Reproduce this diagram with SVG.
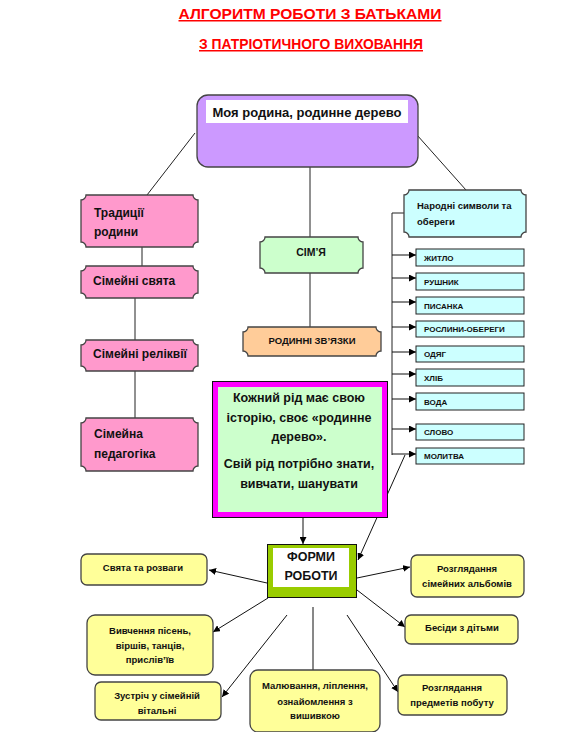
<svg xmlns="http://www.w3.org/2000/svg" width="570" height="732" viewBox="0 0 570 732">
<defs>
<marker id="arr" viewBox="0 0 10 10" refX="10" refY="5" markerWidth="7" markerHeight="7" markerUnits="userSpaceOnUse" orient="auto">
<path d="M0,0 L10,5 L0,10 Z" fill="#000"/>
</marker>
<style>
text{font-family:"Liberation Sans",Arial,sans-serif;font-weight:bold;fill:#111}
.title{fill:#ff0000;font-size:15px;text-decoration:underline}
.pink{fill:#ff99cc;stroke:#444;stroke-width:1.3}
.cyan{fill:#ccffff;stroke:#444;stroke-width:1.3}
.sq{fill:#ccffff;stroke:#222;stroke-width:1}
.yel{fill:#ffff99;stroke:#444;stroke-width:1.3}
.ln{stroke:#222;stroke-width:1;fill:none}
.ar{stroke:#111;stroke-width:1;fill:none;marker-end:url(#arr)}
.pt{font-size:12px}
.st{font-size:8px}
.yt{font-size:9.5px;text-anchor:middle}
</style>
</defs>
<rect width="570" height="732" fill="#fff"/>
<text class="title" x="310" y="19" text-anchor="middle" textLength="263" lengthAdjust="spacingAndGlyphs">АЛГОРИТМ РОБОТИ З БАТЬКАМИ</text>
<text class="title" x="311" y="49" text-anchor="middle" font-size="14" textLength="224" lengthAdjust="spacingAndGlyphs">З ПАТРІОТИЧНОГО ВИХОВАННЯ</text>

<g id="connectors">
<line class="ln" x1="195" y1="133" x2="147" y2="195"/>
<line class="ln" x1="417" y1="135" x2="466" y2="190"/>
<line class="ln" x1="310" y1="167" x2="310" y2="237"/>
<line class="ln" x1="310" y1="273" x2="310" y2="327"/>
<line class="ln" x1="142" y1="238" x2="142" y2="266" stroke="#444"/>
<line class="ln" x1="135" y1="298" x2="135" y2="340" stroke="#444"/>
<line class="ln" x1="135" y1="371" x2="135" y2="418" stroke="#444"/>
<polyline class="ln" points="404,213 392,213 392,455" stroke="#555"/>
<line class="ar" x1="392" y1="255" x2="416" y2="255"/>
<line class="ar" x1="392" y1="278" x2="416" y2="278"/>
<line class="ar" x1="392" y1="302" x2="416" y2="302"/>
<line class="ar" x1="392" y1="327" x2="416" y2="327"/>
<line class="ar" x1="392" y1="352" x2="416" y2="352"/>
<line class="ar" x1="392" y1="374" x2="416" y2="374"/>
<line class="ar" x1="392" y1="399" x2="416" y2="399"/>
<line class="ar" x1="392" y1="429" x2="416" y2="429"/>
<line class="ar" x1="392" y1="454" x2="416" y2="454"/>
<line class="ar" x1="303" y1="498" x2="303" y2="544"/>
<line class="ar" x1="405" y1="455" x2="358" y2="560"/>
<line class="ar" x1="267" y1="583" x2="209" y2="570"/>
<line class="ar" x1="268" y1="598" x2="213" y2="632"/>
<line class="ar" x1="287" y1="615" x2="222" y2="697"/>
<line class="ar" x1="313" y1="607" x2="313" y2="678"/>
<line class="ar" x1="347" y1="615" x2="398" y2="692"/>
<line class="ar" x1="357" y1="590" x2="405" y2="627"/>
<line class="ar" x1="357" y1="578" x2="410" y2="567"/>
</g>

<g id="main">
<rect x="197" y="95" width="221" height="72" rx="11" fill="#cc99ff" stroke="#444" stroke-width="1.3"/>
<rect x="206" y="100" width="202" height="23" fill="#fff"/>
<text x="307" y="117" text-anchor="middle" font-size="13" textLength="189" lengthAdjust="spacingAndGlyphs">Моя родина, родинне дерево</text>
</g>

<g id="tradytsii">
<path class="pink" d="M86,195 H193 A5,5 0 0 0 198,200 V242 A5,5 0 0 0 193,247 H86 A5,5 0 0 0 81,242 V200 A5,5 0 0 0 86,195 Z"/>
<text class="pt" x="94" y="217">Традиції</text>
<text class="pt" x="94" y="236">родини</text>
</g>
<g id="svyata">
<path class="pink" d="M86,266 H193 A5,5 0 0 0 198,271 V293 A5,5 0 0 0 193,298 H86 A5,5 0 0 0 81,293 V271 A5,5 0 0 0 86,266 Z"/>
<text class="pt" x="93" y="285">Сімейні свята</text>
</g>
<g id="relikvii">
<path class="pink" d="M86,340 H193 A5,5 0 0 0 198,345 V366 A5,5 0 0 0 193,371 H86 A5,5 0 0 0 81,366 V345 A5,5 0 0 0 86,340 Z"/>
<text class="pt" x="93" y="358">Сімейні реліквії</text>
</g>
<g id="pedagogika">
<path class="pink" d="M86,418 H193 A5,5 0 0 0 198,423 V466 A5,5 0 0 0 193,471 H86 A5,5 0 0 0 81,466 V423 A5,5 0 0 0 86,418 Z"/>
<text class="pt" x="94" y="438">Сімейна</text>
<text class="pt" x="94" y="458">педагогіка</text>
</g>

<g id="simya">
<path d="M265,237 H358 A5,5 0 0 0 363,242 V268 A5,5 0 0 0 358,273 H265 A5,5 0 0 0 260,268 V242 A5,5 0 0 0 265,237 Z" fill="#ccffcc" stroke="#444" stroke-width="1.3"/>
<text x="311" y="256" text-anchor="middle" font-size="10.5">СІМ’Я</text>
</g>
<g id="zvyazky">
<path d="M248,327 H376 A5,5 0 0 0 381,332 V351 A5,5 0 0 0 376,356 H248 A5,5 0 0 0 243,351 V332 A5,5 0 0 0 248,327 Z" fill="#ffcc99" stroke="#444" stroke-width="1.3"/>
<text x="312" y="344" text-anchor="middle" font-size="9.5">РОДИННІ ЗВ’ЯЗКИ</text>
</g>

<g id="narodni">
<path class="cyan" d="M409,190 H521 A5,5 0 0 0 526,195 V232 A5,5 0 0 0 521,237 H409 A5,5 0 0 0 404,232 V195 A5,5 0 0 0 409,190 Z"/>
<text x="417" y="209" font-size="9.5">Народні символи та</text>
<text x="417" y="225" font-size="9.5">обереги</text>
</g>
<g id="zhytlo"><rect class="sq" x="416" y="249" width="108" height="17"/><text class="st" x="424" y="261">ЖИТЛО</text></g>
<g id="rushnyk"><rect class="sq" x="416" y="273" width="108" height="17"/><text class="st" x="424" y="285">РУШНИК</text></g>
<g id="pysanka"><rect class="sq" x="416" y="297" width="108" height="17"/><text class="st" x="424" y="309">ПИСАНКА</text></g>
<g id="roslyny"><rect class="sq" x="416" y="321" width="108" height="16"/><text class="st" x="424" y="332">РОСЛИНИ-ОБЕРЕГИ</text></g>
<g id="odyag"><rect class="sq" x="416" y="346" width="108" height="16"/><text class="st" x="424" y="357">ОДЯГ</text></g>
<g id="khlib"><rect class="sq" x="416" y="369" width="108" height="17"/><text class="st" x="424" y="381">ХЛІБ</text></g>
<g id="voda"><rect class="sq" x="416" y="393" width="108" height="17"/><text class="st" x="424" y="405">ВОДА</text></g>
<g id="slovo"><rect class="sq" x="416" y="424" width="108" height="16"/><text class="st" x="424" y="435">СЛОВО</text></g>
<g id="molytva"><rect class="sq" x="416" y="448" width="108" height="16"/><text class="st" x="424" y="459">МОЛИТВА</text></g>

<g id="istoriya">
<rect x="212.5" y="381.5" width="175" height="136" fill="#ff00ff" stroke="#111" stroke-width="1"/>
<rect x="218" y="387" width="164" height="125" fill="#ccffcc"/>
<g font-size="12.5" text-anchor="middle">
<text x="299" y="402">Кожний рід має свою</text>
<text x="299" y="422">історію, своє «родинне</text>
<text x="299" y="441">дерево».</text>
<text x="299" y="468">Свій рід потрібно знати,</text>
<text x="299" y="488">вивчати, шанувати</text>
</g>
</g>

<g id="formy">
<rect x="267.5" y="544.5" width="89" height="53" fill="#99cc00" stroke="#111" stroke-width="1"/>
<rect x="273" y="548" width="76" height="39" fill="#fff"/>
<text x="311" y="561" text-anchor="middle" font-size="12.5">ФОРМИ</text>
<text x="311" y="580" text-anchor="middle" font-size="12.5">РОБОТИ</text>
</g>

<g id="svyata-rozvagy">
<rect class="yel" x="81" y="554" width="126" height="31" rx="6"/>
<text class="yt" x="143" y="571">Свята та розваги</text>
</g>
<g id="vyvchennya">
<rect class="yel" x="87" y="615" width="126" height="60" rx="8"/>
<text class="yt" x="150" y="634">Вивчення пісень,</text>
<text class="yt" x="150" y="649">віршів, танців,</text>
<text class="yt" x="150" y="663">прислів’їв</text>
</g>
<g id="zustrich">
<rect class="yel" x="95" y="682" width="126" height="38" rx="6"/>
<text class="yt" x="157" y="699">Зустріч у сімейній</text>
<text class="yt" x="157" y="714">вітальні</text>
</g>
<g id="malyuvannya">
<rect class="yel" x="250" y="670" width="130" height="62" rx="8"/>
<text class="yt" x="315" y="689">Малювання, ліплення,</text>
<text class="yt" x="315" y="705">ознайомлення  з</text>
<text class="yt" x="315" y="719">вишивкою</text>
</g>
<g id="albomy">
<rect class="yel" x="411" y="555" width="113" height="42" rx="6"/>
<text class="yt" x="467" y="572">Розглядання</text>
<text class="yt" x="467" y="587">сімейних альбомів</text>
</g>
<g id="besidy">
<rect class="yel" x="405" y="615" width="113" height="29" rx="6"/>
<text class="yt" x="462" y="631">Бесіди з дітьми</text>
</g>
<g id="predmety">
<rect class="yel" x="398" y="675" width="109" height="40" rx="6"/>
<text class="yt" x="452" y="691">Розглядання</text>
<text class="yt" x="452" y="706">предметів побуту</text>
</g>
</svg>
